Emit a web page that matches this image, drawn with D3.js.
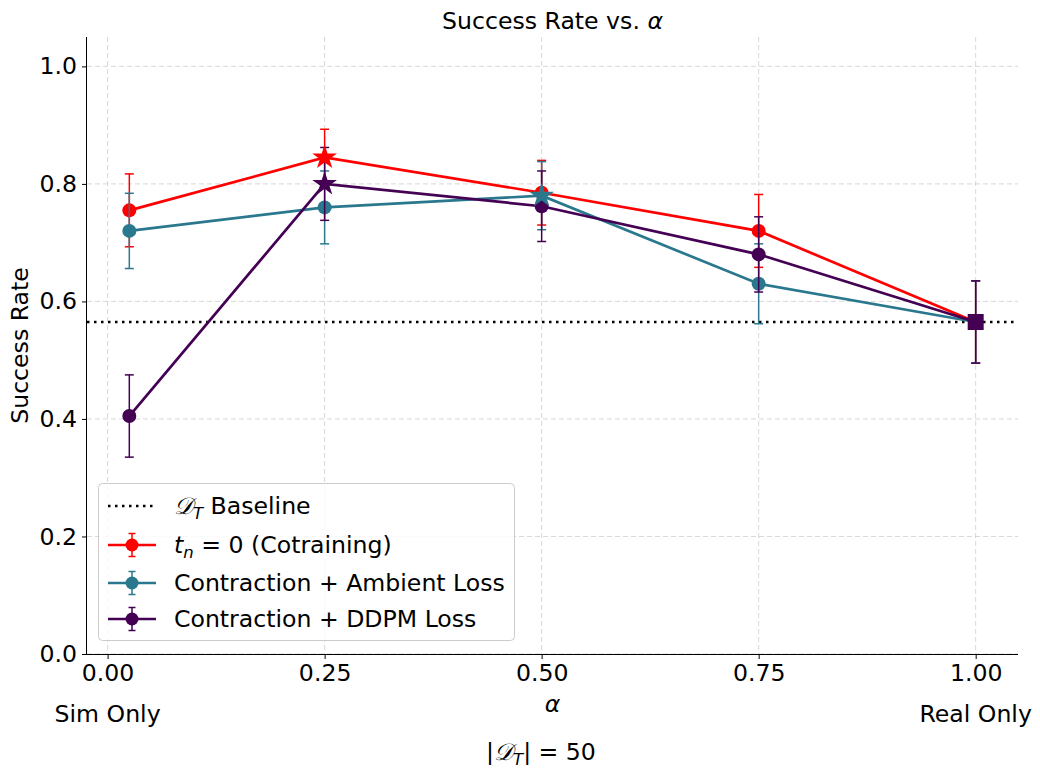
<!DOCTYPE html>
<html>
<head>
<meta charset="utf-8">
<script src="https://cdn.jsdelivr.net/npm/d3@7"></script>
<style>
  html, body { margin: 0; padding: 0; background: #fff; }
  svg text { font-family: "DejaVu Sans", sans-serif; }
</style>
</head>
<body>
<svg id="chart" width="1040" height="778"></svg>
<script>
// ---- data ----
const alphas = [0.025, 0.25, 0.5, 0.75, 1.0];
const xTicks = [0, 0.25, 0.5, 0.75, 1.0];
const xTickLabels = ["0.00", "0.25", "0.50", "0.75", "1.00"];
const yTicks = [0, 0.2, 0.4, 0.6, 0.8, 1.0];
const yTickLabels = ["0.0", "0.2", "0.4", "0.6", "0.8", "1.0"];

const seriesNames = ["cotrain", "ambient", "ddpm"];
const cotrainMean = [0.755, 0.845, 0.785, 0.72, 0.565];
const cotrainErr  = [0.062, 0.048, 0.055, 0.062, 0.07];
const ambientMean = [0.72, 0.76, 0.78, 0.63, 0.565];
const ambientErr  = [0.064, 0.062, 0.058, 0.068, 0.07];
const ddpmMean    = [0.405, 0.80, 0.762, 0.68, 0.565];
const ddpmErr     = [0.07, 0.062, 0.06, 0.064, 0.07];
const baseline = 0.565;

const colors = { cotrain: "#ff0000", ambient: "#2a788e", ddpm: "#440154" };

const series = [
  { key: "cotrain", mean: cotrainMean, err: cotrainErr },
  { key: "ambient", mean: ambientMean, err: ambientErr },
  { key: "ddpm", mean: ddpmMean, err: ddpmErr }
];

// ---- layout ----
const svg = d3.select("#chart");
const L = 87, R = 1018, T = 37, B = 654;
const FS = 23.6;

const x = d3.scaleLinear().domain([-0.02375, 1.04875]).range([L, R]);
const y = d3.scaleLinear().domain([0, 1.05]).range([B, T]);

// grid
const grid = svg.append("g");
grid.selectAll("line.gx").data(xTicks).enter().append("line")
  .attr("x1", d => x(d)).attr("x2", d => x(d)).attr("y1", T).attr("y2", B)
  .attr("stroke", "#b0b0b0").attr("stroke-opacity", 0.55).attr("stroke-width", 0.9)
  .attr("stroke-dasharray", "5,3");
grid.selectAll("line.gy").data(yTicks).enter().append("line")
  .attr("x1", L).attr("x2", R).attr("y1", d => y(d)).attr("y2", d => y(d))
  .attr("stroke", "#b0b0b0").attr("stroke-opacity", 0.55).attr("stroke-width", 0.9)
  .attr("stroke-dasharray", "5,3");

// axes
const xAxis = d3.axisBottom(x).tickValues(xTicks).tickFormat((d, i) => xTickLabels[i])
  .tickSizeInner(5).tickSizeOuter(0).tickPadding(5);
const yAxis = d3.axisLeft(y).tickValues(yTicks).tickFormat((d, i) => yTickLabels[i])
  .tickSizeInner(5).tickSizeOuter(0).tickPadding(5);

const gx = svg.append("g").attr("transform", `translate(0,${B})`).call(xAxis);
const gy = svg.append("g").attr("transform", `translate(${L},0)`).call(yAxis);
[gx, gy].forEach(g => {
  g.selectAll("text").attr("font-size", FS).attr("fill", "#000").attr("font-family", "DejaVu Sans");
  g.selectAll("line").attr("stroke", "#000").attr("stroke-width", 1);
  g.select(".domain").attr("stroke", "#000").attr("stroke-width", 1);
});
gx.select(".domain").attr("d", `M${L},0.5H${R}`);
gy.select(".domain").attr("d", `M-0.5,${T}V${B}`);

// baseline
svg.append("line")
  .attr("x1", L).attr("x2", R).attr("y1", y(baseline)).attr("y2", y(baseline))
  .attr("stroke", "#000").attr("stroke-width", 2.5).attr("stroke-dasharray", "2.5,4.5");

// series lines, error bars, circles
const line = d3.line().x((d, i) => x(alphas[i])).y(d => y(d));
const capW = 4.5;
series.forEach(s => {
  const c = colors[s.key];
  const g = svg.append("g");
  s.mean.forEach((m, i) => {
    const xx = x(alphas[i]);
    const y1 = y(m + s.err[i]), y2 = y(m - s.err[i]);
    g.append("line").attr("x1", xx).attr("x2", xx).attr("y1", y1).attr("y2", y2)
      .attr("stroke", c).attr("stroke-width", 1.5);
    [y1, y2].forEach(yy => g.append("line").attr("x1", xx - capW).attr("x2", xx + capW)
      .attr("y1", yy).attr("y2", yy).attr("stroke", c).attr("stroke-width", 1.5));
  });
  g.append("path").datum(s.mean).attr("d", line)
    .attr("fill", "none").attr("stroke", c).attr("stroke-width", 2.7);
  const best = d3.maxIndex(s.mean);
  s.mean.forEach((m, i) => {
    if (i === best || i === alphas.length - 1) return;
    g.append("circle").attr("cx", x(alphas[i])).attr("cy", y(m)).attr("r", 7).attr("fill", c);
  });
});

// stars for best alpha of each series
const starR = 13;
const star = d3.symbol().type(d3.symbolStar).size(starR * starR / 0.8908130915292852);
series.forEach(s => {
  const best = d3.maxIndex(s.mean);
  svg.append("path").attr("d", star())
    .attr("transform", `translate(${x(alphas[best])},${y(s.mean[best])})`)
    .attr("fill", colors[s.key]);
});

// square at alpha = 1 (real only)
const last = alphas.length - 1;
svg.append("path").attr("d", d3.symbol().type(d3.symbolSquare).size(16 * 16)())
  .attr("transform", `translate(${x(alphas[last])},${y(ddpmMean[last])})`)
  .attr("fill", colors.ddpm);

// title
const title = svg.append("text").attr("x", (L + R) / 2).attr("y", 29)
  .attr("text-anchor", "middle").attr("font-size", FS);
title.append("tspan").text("Success Rate vs. ");
title.append("tspan").attr("font-style", "italic").text("α");

// y label
svg.append("text").attr("transform", `translate(28,${(T + B) / 2}) rotate(-90)`)
  .attr("text-anchor", "middle").attr("font-size", FS).text("Success Rate");

// x label
svg.append("text").attr("x", (L + R) / 2).attr("y", 712).attr("text-anchor", "middle")
  .attr("font-size", FS).attr("font-style", "italic").text("α");

svg.append("text").attr("x", x(0)).attr("y", 722).attr("text-anchor", "middle")
  .attr("font-size", FS).text("Sim Only");
svg.append("text").attr("x", x(1)).attr("y", 722).attr("text-anchor", "middle")
  .attr("font-size", FS).text("Real Only");

const dt = svg.append("text").attr("x", 541).attr("y", 760).attr("text-anchor", "middle")
  .attr("font-size", FS);
dt.append("tspan").text("|");
dt.append("tspan").attr("font-style", "italic").text("𝒟");
dt.append("tspan").attr("font-size", FS * 0.7).attr("font-style", "italic").attr("dy", 5).text("T");
dt.append("tspan").attr("dy", -5).text("| = 50");

// legend
const lg = svg.append("g");
lg.append("rect").attr("x", 98.5).attr("y", 483.5).attr("width", 416).attr("height", 157)
  .attr("rx", 4).attr("fill", "#fff").attr("fill-opacity", 0.8)
  .attr("stroke", "#cccccc").attr("stroke-width", 1);
const rowY = [506, 545, 583, 619];
const hx1 = 108, hx2 = 156, hxc = 132, tx = 174;
lg.append("line").attr("x1", hx1).attr("x2", hx2).attr("y1", rowY[0]).attr("y2", rowY[0])
  .attr("stroke", "#000").attr("stroke-width", 2.5).attr("stroke-dasharray", "2.5,4.5");
const t0 = lg.append("text").attr("x", tx).attr("y", rowY[0] + 8).attr("font-size", FS);
t0.append("tspan").attr("font-style", "italic").text("𝒟");
t0.append("tspan").attr("font-size", FS * 0.7).attr("font-style", "italic").attr("dy", 5).text("T");
t0.append("tspan").attr("dy", -5).text(" Baseline");

series.forEach((s, k) => {
  const c = colors[s.key];
  const yy = rowY[k + 1];
  lg.append("line").attr("x1", hxc).attr("x2", hxc).attr("y1", yy - 11.5).attr("y2", yy + 11.5)
    .attr("stroke", c).attr("stroke-width", 1.5);
  [yy - 11.5, yy + 11.5].forEach(v => lg.append("line").attr("x1", hxc - 3.5).attr("x2", hxc + 3.5)
    .attr("y1", v).attr("y2", v).attr("stroke", c).attr("stroke-width", 1.5));
  lg.append("line").attr("x1", hx1).attr("x2", hx2).attr("y1", yy).attr("y2", yy)
    .attr("stroke", c).attr("stroke-width", 2.7);
  lg.append("circle").attr("cx", hxc).attr("cy", yy).attr("r", 6.5).attr("fill", c);
});

const t1 = lg.append("text").attr("x", tx).attr("y", rowY[1] + 8).attr("font-size", FS);
t1.append("tspan").attr("font-style", "italic").text("t");
t1.append("tspan").attr("font-size", FS * 0.7).attr("font-style", "italic").attr("dy", 5).text("n");
t1.append("tspan").attr("dy", -5).text(" = 0 (Cotraining)");
lg.append("text").attr("x", tx).attr("y", rowY[2] + 8).attr("font-size", FS).text("Contraction + Ambient Loss");
lg.append("text").attr("x", tx).attr("y", rowY[3] + 8).attr("font-size", FS).text("Contraction + DDPM Loss");
</script>
</body>
</html>
